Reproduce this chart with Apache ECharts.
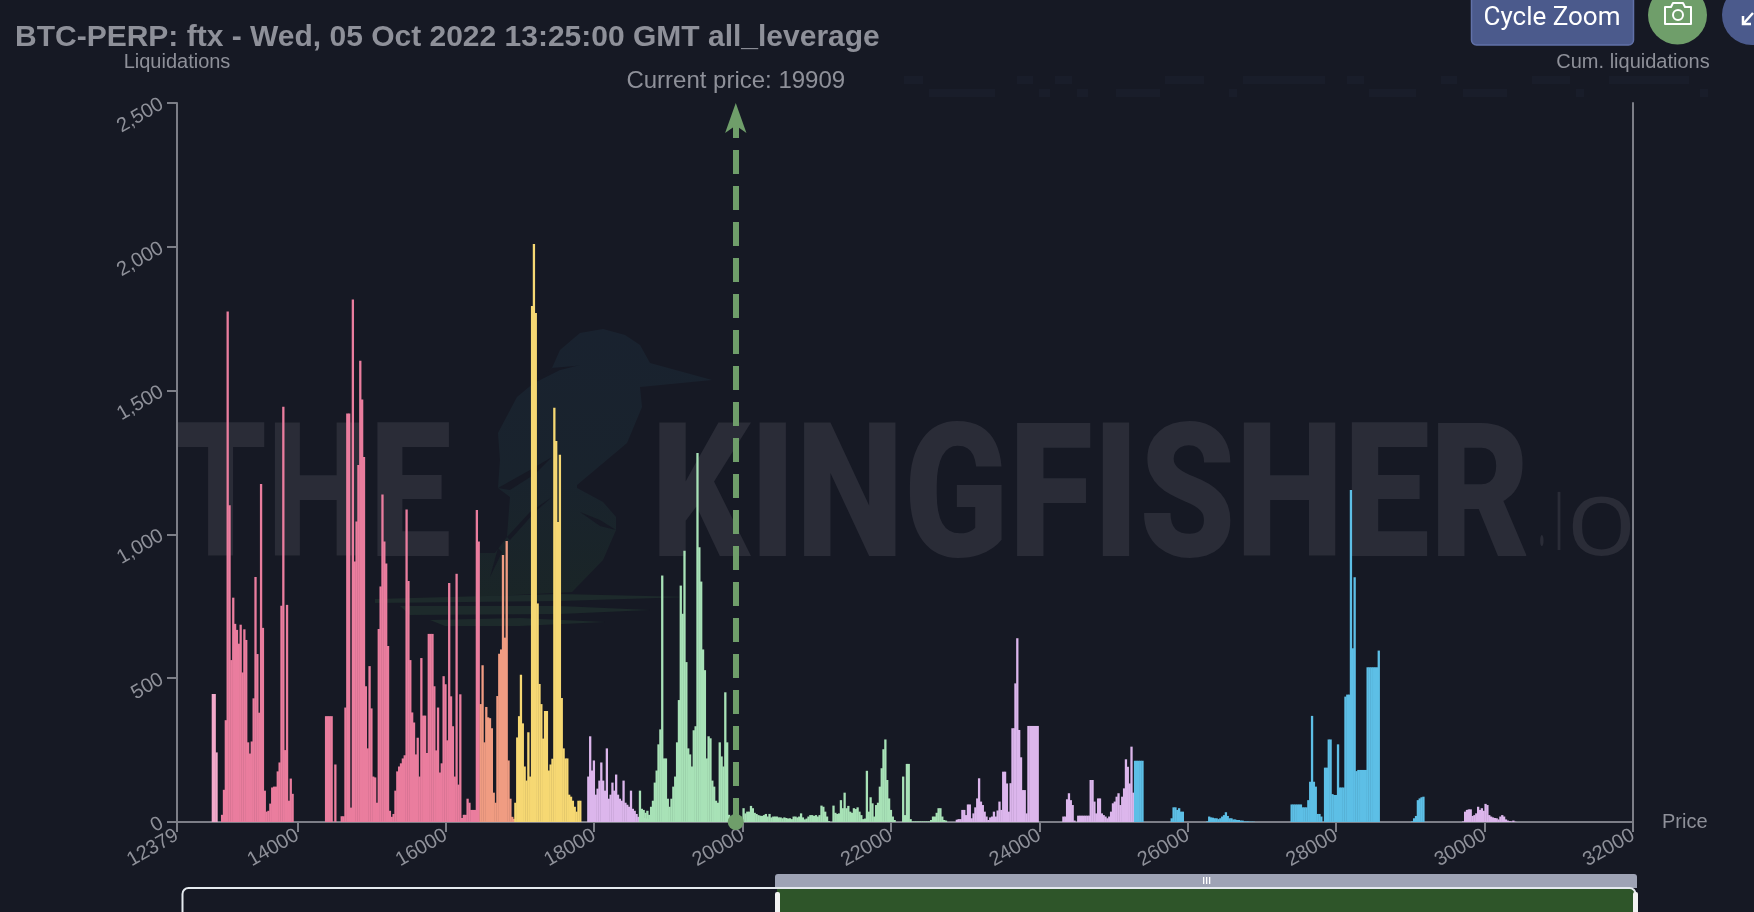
<!DOCTYPE html>
<html><head><meta charset="utf-8">
<style>html,body{margin:0;padding:0;background:#161924;overflow:hidden}#c{width:1754px;height:912px}</style>
<script src="https://cdn.jsdelivr.net/npm/echarts@6/dist/echarts.min.js"></script>
</head><body><div id="c"></div>
<script>
const titleText = 'BTC-PERP: ftx - Wed, 05 Oct 2022 13:25:00 GMT all_leverage';
const currentPrice = 19909;
const xTicks = [12379,14000,16000,18000,20000,22000,24000,26000,28000,30000,32000];
const binSize = 25;
// liquidation bins: each run = first bin price + consecutive bin values
const lightPink = [445,445,242];
const pink1 = [25,112,354,1775,1101,563,780,689,668,620,686,520,670,633,277,238,280,430,852,584,380,1175,675,109,36,39,64,120,123,123,176,207,752,1444,250,755,74,151,98];
const pink2 = [368,368,368,368,0,200];
const pink3 = [20,20,398,1420,1420,50,1817,906,1045,1241,1604,1469,1269,472,256,542,395,158,155,67];
const pink4 = [671,819,1139,975,899,612,39,18,28,109,176,193,204,221,232,1087,838,563,381,346,235,293,158];
const pink5 = [570,370,370,240,654,654,654,472,249,398,172,204,507,479,284,831,437,333,158,863,130,444];
const pink6 = [14,25,25,81,67,42,42,42,1085,975];
const orange = [410,545,277,400,364,361,326,102,67,438,585,600,928,641,977,214,81,18,11];
const yellow = [67,294,368,512,343,193,144,312,158,1794,2010,1770,760,480,410,290,386,386,179,200,220,1440,1325,1043,1277,431,256,221,221,95,88,74,53,36,74,74];
const purple1 = [158,298,179,214,95,116,144,207,144,109,256,81,95,137,109,165,95,81,74,144,67,60,53,109,46,39,28,18,14,14,14,12,10,8];
const green1 = [109,46,42,32,39,25,53,74,137,179,270,322,857,221,221,81,53,81,123,158,277,424,822,724,943,556,256,235,193,319,333,1283,955,836,600,528,221,298,291,144,123,74,67,277,228,193,451,277,25];
const green2 = [48,30,36,36,56,48,32,28,24,22,21,24,28,19,28,16,19,19,19,16,16,13,16,14,12,13,10,19,19,16,19,30,16,9,12,19,24,24,21,24,19,24,57,53,36,19,3];
const green3 = [57,32,28,30,76,48,102,48,56,36,32,48,45,51,36,24,10,12,178,36,86,65,19,59,67,123,187];
const green4 = [253,287,146,82,42,19,7];
const green5 = [158,24,202,202,10];
const green6 = [2,2,2,2,2,2,2,2,2,2];
const green7 = [7,19,19,32,48,48,19,7,5];
const purple2 = [8,10,10,42,42,24,61,61,13,30,51,82,152,71,59,36,19,7,16,19,36,19,40,71,42,175,175,134,36,135,326,326];
const purple3 = [482,639,320,225,111,111,30,334,334,334,334,334,334];
const purple4 = [19,19,79,100,76,59,5,0,22,22,22,22,22,22,22];
const purple5 = [146,146,71,30,82,82,30,24,19,13,19,36,65,71,88,100,59,88,117,218,192,134,262,102];
const blue0 = [213,213,213,213,213];
const blue1 = [13,51,51,42,48,36,36];
const blue2 = [2,19,16,15,13,13,10,13,19,24,34,21,13,13,9,9,7,7,5,5,2,2,2,1,1,1];
const blue3 = [61,61,61,61,61,61,51,51,51,76,140,369,140,123,28,28,19,0,189,189,287,287,97,94,94,270,120,120,120,436,443,443];
const blue4 = [1154,604,851,177,181,181,181,181,181,538,538,538,538,538,538,596];
const blue5 = [2,13,21,76,82,86,88];
const purple6 = [2,36,42,44,44,21,24,30,53,42,48,39,63,59,24,19,16,14,13,9,19,24,19,9,5,3,2,5,1];

const groups = [
  {name:'band6', color:'#f3a9cb', runs:[[12862,lightPink]]},
  {name:'band1', color:'#ea7d9e', runs:[[12987,pink1],[14388,pink2],[14599,pink3],[15098,pink4],[15672,pink5],[16220,pink6]]},
  {name:'band2', color:'#f09c82', runs:[[16472,orange]]},
  {name:'band3', color:'#f6d873', runs:[[16939,yellow]]},
  {name:'band4', color:'#dcb6ec', runs:[[17922,purple1],[22888,purple2],[23678,purple3],[24324,purple4],[24692,purple5],[29713,purple6]]},
  {name:'band5', color:'#a8e2b7', runs:[[18618,green1],[20014,green2],[21226,green3],[21900,green4],[22165,green5],[22290,green6],[22542,green7]]},
  {name:'band7', color:'#5dbfe6', runs:[[25290,blue0],[25784,blue1],[26264,blue2],[27400,blue3],[28199,blue4],[29026,blue5]]}
];
const toPairs = runs => runs.flatMap(([start, vals]) => vals.map((v,i)=>[start+i*binSize, v]));

const C = {bg:'#161924', text:'#8e9099', axis:'#7c7e87', green:'#6f9e6a', navy:'#4b5a8c', wm:'#2a2c37', reed:'#1d2a2b', faint:'#191d2a'};
const chart = echarts.init(document.getElementById('c'), null, {renderer:'canvas', width:1754, height:912});

const measure = document.createElement('canvas').getContext('2d');
function wmText(text, x0, x1, weight, size, cy){
  const font = `${weight} ${size}px Roboto`;
  measure.font = font;
  const w = measure.measureText(text).width;
  return {type:'text', z:0, x:x0, y:cy, scaleX:(x1-x0)/w, silent:true,
    style:{text, font, fill:C.wm, verticalAlign:'middle', align:'left'}};
}
const slit = pts => ({type:'polygon', z:0, silent:true, shape:{points:pts}, style:{fill:C.bg}});
const faintBar = (x0,x1,y) => ({type:'rect', z:-1, silent:true, shape:{x:x0,y:y,width:x1-x0,height:8}, style:{fill:C.faint}});
const faintRow1 = [[904,923],[1017,1033],[1055,1072],[1165,1204],[1243,1325],[1347,1364],[1441,1457],[1532,1570],[1609,1689]];
const faintRow2 = [[929,995],[1039,1050],[1077,1088],[1116,1160],[1229,1237],[1369,1416],[1463,1507],[1576,1584],[1700,1708]];

const series = groups.map((g,i)=>({
  name:g.name, type:'bar', barWidth:2.3, barGap:'-100%', z:3,
  itemStyle:{color:g.color}, data:toPairs(g.runs), animation:false, silent:true,
  markLine: i===0 ? {
    silent:true, animation:false, symbol:['circle','arrow'], symbolSize:[16,30], precision:0, z:5,
    lineStyle:{color:C.green, width:6, type:[24,12], opacity:1},
    itemStyle:{color:C.green},
    label:{show:true, position:'end', formatter:'Current price: '+currentPrice, color:C.text, fontSize:24, fontFamily:'Liberation Sans', distance:10},
    data:[[{coord:[currentPrice,0]},{coord:[currentPrice,2500]}]]
  } : undefined
}));

chart.setOption({
  animation:false,
  backgroundColor:C.bg,
  title:{text:titleText, left:10, top:18, textStyle:{color:C.text, fontSize:30, fontWeight:'bold', fontFamily:'Liberation Sans'}},
  grid:{left:177, right:121, top:103, bottom:90},
  xAxis:{type:'value', min:12379, max:32000, name:'Price', nameGap:29, nameLocation:'end',
    nameTextStyle:{color:C.text, fontSize:20, fontFamily:'Liberation Sans', verticalAlign:'middle'},
    splitLine:{show:false},
    axisLine:{lineStyle:{color:C.axis, width:2}},
    axisTick:{show:true, length:10, customValues:xTicks, lineStyle:{color:C.axis, width:2}},
    axisLabel:{customValues:xTicks, rotate:30, color:C.text, fontSize:20, fontFamily:'Liberation Sans', margin:12, formatter:v=>String(v)}},
  yAxis:[
    {type:'value', min:0, max:2500, interval:500, name:'Liquidations', nameGap:31,
     nameTextStyle:{color:C.text, fontSize:20, fontFamily:'Liberation Sans'},
     splitLine:{show:false},
     axisLine:{show:true, lineStyle:{color:C.axis, width:2}},
     axisTick:{show:true, length:10, lineStyle:{color:C.axis, width:2}},
     axisLabel:{rotate:30, color:C.text, fontSize:20, fontFamily:'Liberation Sans', margin:15,
       formatter:v=>v.toLocaleString('en-US')}},
    {type:'value', position:'right', min:0, max:2500, interval:500, name:'Cum. liquidations', nameGap:31,
     nameTextStyle:{color:C.text, fontSize:20, fontFamily:'Liberation Sans'},
     splitLine:{show:false},
     axisLine:{show:true, lineStyle:{color:C.axis, width:2}},
     axisTick:{show:false}, axisLabel:{show:false}}
  ],
  series,
  graphic:{elements:[
    ...faintRow1.map(([a,b])=>faintBar(a,b,76)),
    ...faintRow2.map(([a,b])=>faintBar(a,b,89)),
    wmText('THE',175,451,900,188,509),
    wmText('KINGFISHER',651,1530,900,188,509),
    wmText('.',1538,1546,400,100,520),
    wmText('I',1555,1563,400,82,529),
    wmText('O',1567,1636,400,82,534),
    {type:'polygon', z:-1, silent:true, shape:{points:[[712,380],[650,363],[640,345],[625,335],[603,329],[580,333],[560,350],[552,368],[517,397],[498,433],[500,460],[498,488],[510,497],[507,537],[495,553],[480,553],[475,597],[572,592],[603,560],[616,530],[616,517],[603,502],[577,488],[577,485],[627,443],[642,407],[640,387]]},
      style:{fill:{type:'linear',x:0,y:0,x2:0,y2:1,colorStops:[{offset:0,color:'#19222f'},{offset:0.55,color:'#19232d'},{offset:1,color:'#1a2527'}]}}},
    slit([[552,368],[575,366],[580,365],[560,370],[530,385]]),
    slit([[498,488],[530,470],[552,457],[535,474],[510,490]]),
    slit([[507,537],[530,512],[552,497],[535,512],[510,540]]),
    slit([[580,512],[600,520],[616,530],[600,526]]),
    slit([[490,577],[498,548],[502,552]]),
    {type:'polygon', z:-1, silent:true, shape:{points:[[375,599],[560,594],[690,597],[560,601],[375,603]]}, style:{fill:C.reed}},
    {type:'polygon', z:-1, silent:true, shape:{points:[[400,606],[560,606],[650,610],[560,614],[410,615]]}, style:{fill:C.reed}},
    {type:'polygon', z:-1, silent:true, shape:{points:[[430,620],[520,618],[605,622],[520,626],[445,626]]}, style:{fill:C.reed}},
    // buttons
    {type:'rect', z:10, shape:{x:1471.5,y:-6,width:162,height:51,r:5}, style:{fill:C.navy, stroke:'#6171a8', lineWidth:1.5}},
    {type:'text', z:11, x:1552, y:18, style:{text:'Cycle Zoom', font:'400 26px Roboto', fill:'#ffffff', align:'center', verticalAlign:'middle'}},
    {type:'circle', z:10, shape:{cx:1677.5,cy:15,r:29.5}, style:{fill:C.green}},
    {type:'polygon', z:11, shape:{points:[[1665,7],[1671,7],[1673,3],[1683,3],[1685,7],[1691,7],[1691,24],[1665,24]]}, style:{fill:'none', stroke:'#fff', lineWidth:2, lineJoin:'round'}},
    {type:'circle', z:11, shape:{cx:1678,cy:15,r:5}, style:{fill:'none', stroke:'#fff', lineWidth:2}},
    {type:'circle', z:10, shape:{cx:1752,cy:15,r:30}, style:{fill:C.navy}},
    {type:'polyline', z:11, shape:{points:[[1753,13],[1744,23]]}, style:{fill:'none', stroke:'#fff', lineWidth:2.5}},
    {type:'polyline', z:11, shape:{points:[[1743,16],[1743,24],[1751,24]]}, style:{fill:'none', stroke:'#fff', lineWidth:2.5}},
    // zoom slider
    {type:'rect', z:10, shape:{x:775,y:874,width:862,height:14,r:[3,3,0,0]}, style:{fill:'#9ea3b5'}},
    {type:'rect', z:11, shape:{x:1203,y:877,width:1.3,height:7}, style:{fill:'#fff'}},
    {type:'rect', z:11, shape:{x:1206,y:877,width:1.3,height:7}, style:{fill:'#fff'}},
    {type:'rect', z:11, shape:{x:1209,y:877,width:1.3,height:7}, style:{fill:'#fff'}},
    {type:'rect', z:10, shape:{x:777,y:889,width:858,height:30}, style:{fill:'#2e5529'}},
    {type:'rect', z:11, shape:{x:182.5,y:888,width:1453,height:40,r:6}, style:{fill:'none', stroke:'#e4e9ee', lineWidth:2}},
    {type:'rect', z:12, shape:{x:775,y:892,width:5,height:30,r:2}, style:{fill:'#f2f2f2'}},
    {type:'rect', z:12, shape:{x:1633,y:892,width:5,height:30,r:2}, style:{fill:'#f2f2f2'}}
  ]}
});
</script></body></html>
